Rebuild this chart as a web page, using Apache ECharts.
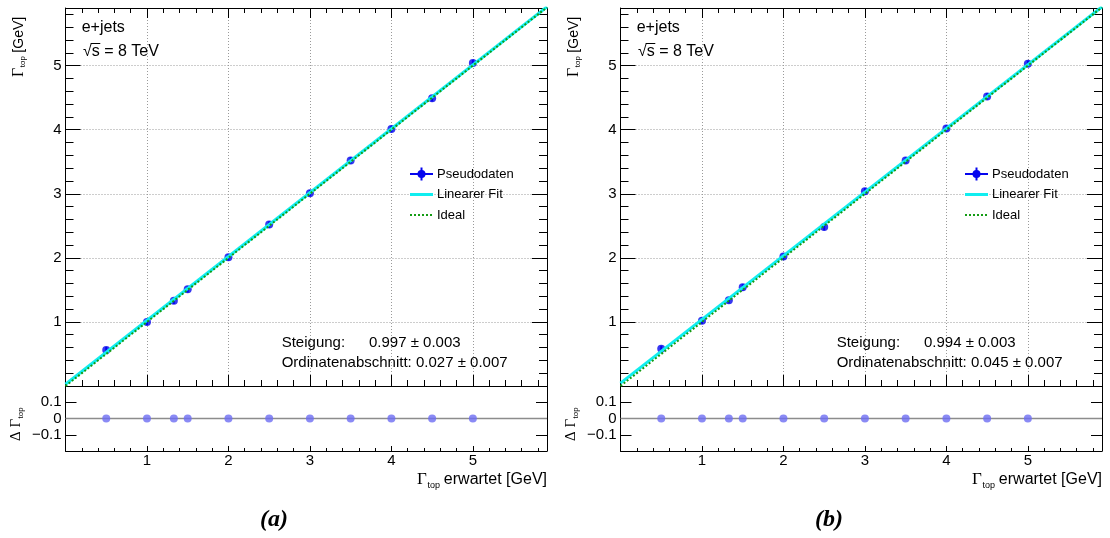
<!DOCTYPE html>
<html>
<head>
<meta charset="utf-8">
<title>Γtop Kalibration, e+jets</title>
<script src="https://cdn.jsdelivr.net/npm/echarts@6/dist/echarts.min.js"></script>
<style>
  html, body { margin: 0; padding: 0; background: #ffffff; }
  #chart { width: 1110px; height: 538px; }
</style>
</head>
<body>
<div id="chart"></div>
<script>
// ---- values -------------------------------------------------------------
// generated (expected) top width in GeV
const expectedWidth = [0.5, 1, 1.33, 1.5, 2, 2.5, 3, 3.5, 4, 4.5, 5];

// (a) pseudo-data: measured width, its uncertainty, residual to the fit
const measuredA = [0.56, 1.00, 1.33, 1.51, 2.01, 2.52, 3.01, 3.52, 4.01, 4.49, 5.04];
const measuredErrA = [0.05, 0.05, 0.05, 0.05, 0.05, 0.05, 0.05, 0.05, 0.05, 0.05, 0.05];
const residualA = [0, 0, 0, 0, 0, 0, 0, 0, 0, 0, 0];
const fitA = [0.997, 0.003, 0.027, 0.007];   // slope, error, intercept, error

// (b) pseudo-data
const measuredB = [0.58, 1.02, 1.34, 1.54, 2.02, 2.48, 3.04, 3.52, 4.02, 4.52, 5.03];
const measuredErrB = [0.05, 0.05, 0.05, 0.05, 0.05, 0.05, 0.05, 0.05, 0.05, 0.05, 0.05];
const residualB = [0, 0, 0, 0, 0, 0, 0, 0, 0, 0, 0];
const fitB = [0.994, 0.003, 0.045, 0.007];

const panelCaptions = ['(a)', '(b)'];
const legendLabels = ['Pseudodaten', 'Linearer Fit', 'Ideal'];
const channelLabel = 'e+jets';
const energyLabel = 's = 8 TeV';

// ---- layout -------------------------------------------------------------
const FONT = "'Liberation Sans', Arial, Helvetica, sans-serif";
const GREEK = "'Liberation Serif', 'Times New Roman', serif";
const PANEL_DX = 555;
const FRAME_L = 65.5, FRAME_W = 481.5;
const MAIN_T = 8, MAIN_H = 378, RATIO_H = 65;
const X_MAX = 5.91, Y_MAX = 5.9, RATIO_LIM = 0.2;

const C_DATA = '#0505ee';
const C_RATIO = '#6d6df2';
const C_FIT = '#10eef0';
const C_IDEAL = '#149c14';

const measureCtx = document.createElement('canvas').getContext('2d');
function textWidth(str, font) { measureCtx.font = font; return measureCtx.measureText(str).width; }

const grid = [], xAxis = [], yAxis = [], series = [], graphic = [];

function addAxis(dim, gridIndex, position, min, max, interval, tickLen, o) {
  o = o || {};
  const label = {
    show: !!o.labels, color: '#000', fontFamily: FONT, fontSize: 15,
    margin: o.margin != null ? o.margin : 4, showMinLabel: false, showMaxLabel: false
  };
  if (o.formatter) label.formatter = o.formatter;
  const a = {
    type: 'value', gridIndex, position, min, max, interval, silent: true,
    axisLine: { show: !!o.line, onZero: false, lineStyle: { color: '#000', width: 1 } },
    axisTick: { show: true, inside: true, length: tickLen, lineStyle: { color: '#000', width: 1 } },
    axisLabel: label,
    splitLine: { show: !!o.split, lineStyle: { color: '#9a9a9a', width: 1, type: [1, 2] } },
    minorTick: { show: false }, minorSplitLine: { show: false },
    axisPointer: { show: false }
  };
  const list = dim === 'x' ? xAxis : yAxis;
  list.push(a);
  return list.length - 1;
}

function txt(x, y, text, font, align, extra) {
  return Object.assign({
    type: 'text', x, y, silent: true, z: 100,
    style: {
      text, font, fill: '#000',
      align: align || 'left', verticalAlign: 'middle',
      textAlign: align || 'left', textVerticalAlign: 'middle'
    }
  }, extra || {});
}
function seg(x1, y1, x2, y2, stroke, width, dash) {
  const st = { stroke, lineWidth: width };
  if (dash) st.lineDash = dash;
  return { type: 'line', silent: true, z: 100, shape: { x1, y1, x2, y2 }, style: st };
}

function minusFmt(v) {
  const r = Math.round(v * 1000) / 1000;
  return r < 0 ? '\u2212' + Math.abs(r) : String(r);
}

function addPanel(k, measured, errs, resid, fit) {
  const dx = k * PANEL_DX;
  const slope = fit[0], slopeErr = fit[1], icpt = fit[2], icptErr = fit[3];

  // grids: main plot and residual strip
  const gMain = grid.length;
  grid.push({ left: FRAME_L + dx, top: MAIN_T, width: FRAME_W, height: MAIN_H });
  const gRatio = grid.length;
  grid.push({ left: FRAME_L + dx, top: MAIN_T + MAIN_H, width: FRAME_W, height: RATIO_H });

  // main frame: major + minor ticks on all four sides
  const xm = addAxis('x', gMain, 'bottom', 0, X_MAX, 1, 11, { line: true, split: true });
  addAxis('x', gMain, 'bottom', 0, X_MAX, 0.2, 6);
  addAxis('x', gMain, 'top', 0, X_MAX, 1, 10, { line: true });
  addAxis('x', gMain, 'top', 0, X_MAX, 0.2, 5);
  const ym = addAxis('y', gMain, 'left', 0, Y_MAX, 1, 15, { line: true, split: true, labels: true, margin: 4 });
  addAxis('y', gMain, 'left', 0, Y_MAX, 0.2, 8);
  addAxis('y', gMain, 'right', 0, Y_MAX, 1, 15, { line: true });
  addAxis('y', gMain, 'right', 0, Y_MAX, 0.2, 8);

  // residual frame
  const xr = addAxis('x', gRatio, 'bottom', 0, X_MAX, 1, 5, { line: true, labels: true, margin: 2 });
  addAxis('x', gRatio, 'bottom', 0, X_MAX, 0.2, 3);
  const yr = addAxis('y', gRatio, 'left', -RATIO_LIM, RATIO_LIM, 0.1, 11,
                     { line: true, labels: true, margin: 4, formatter: minusFmt });
  addAxis('y', gRatio, 'right', -RATIO_LIM, RATIO_LIM, 0.1, 11, { line: true });

  // error bars
  series.push({
    type: 'custom', xAxisIndex: xm, yAxisIndex: ym, z: 3, silent: true,
    data: expectedWidth.map((x, i) => [x, measured[i], errs[i]]),
    renderItem: (params, api) => {
      const a = api.coord([api.value(0), api.value(1) - api.value(2)]);
      const b = api.coord([api.value(0), api.value(1) + api.value(2)]);
      return { type: 'line', shape: { x1: a[0], y1: a[1], x2: b[0], y2: b[1] },
               style: { stroke: C_DATA, lineWidth: 2 } };
    }
  });
  // pseudo-data points
  series.push({
    type: 'scatter', name: legendLabels[0], xAxisIndex: xm, yAxisIndex: ym, z: 3, silent: true,
    symbol: 'circle', symbolSize: 8, itemStyle: { color: C_DATA },
    data: expectedWidth.map((x, i) => [x, measured[i]])
  });
  // linear fit
  series.push({
    type: 'line', name: legendLabels[1], xAxisIndex: xm, yAxisIndex: ym, z: 4, silent: true,
    symbol: 'none', clip: true, lineStyle: { color: C_FIT, width: 3 },
    data: [0, X_MAX].map(x => [x, icpt + slope * x])
  });
  // ideal calibration y = x
  series.push({
    type: 'line', name: legendLabels[2], xAxisIndex: xm, yAxisIndex: ym, z: 5, silent: true,
    symbol: 'none', clip: true, lineStyle: { color: C_IDEAL, width: 2, type: [2, 2] },
    data: [0, X_MAX].map(x => [x, x])
  });
  // residual strip: zero line and residuals
  series.push({
    type: 'line', xAxisIndex: xr, yAxisIndex: yr, z: 2, silent: true, symbol: 'none',
    lineStyle: { color: '#8c8c8c', width: 1.5 },
    data: [[0, 0], [X_MAX, 0]]
  });
  series.push({
    type: 'scatter', xAxisIndex: xr, yAxisIndex: yr, z: 3, silent: true,
    symbol: 'circle', symbolSize: 8, itemStyle: { color: C_RATIO },
    data: expectedWidth.map((x, i) => [x, resid[i]])
  });

  // ---- annotations ----
  const f16 = `16px ${FONT}`, f15 = `15px ${FONT}`, f13 = `13px ${FONT}`;
  graphic.push(txt(81.7 + dx, 28, channelLabel, f16));
  const wSqrt = textWidth('\u221A', f16);
  graphic.push(txt(83 + dx, 52, '\u221A', f16));
  graphic.push(txt(83 + dx + wSqrt, 52, energyLabel, f16));
  graphic.push(seg(83 + dx + wSqrt - 1, 43.5, 83 + dx + wSqrt + textWidth('s', f16) + 0.5, 43.5, '#000', 1));

  graphic.push(txt(281.7 + dx, 342.5, 'Steigung:', f15));
  graphic.push(txt(369 + dx, 342.5, `${slope.toFixed(3)} \u00B1 ${slopeErr.toFixed(3)}`, f15));
  graphic.push(txt(281.7 + dx, 363, `Ordinatenabschnitt: ${icpt.toFixed(3)} \u00B1 ${icptErr.toFixed(3)}`, f15));

  // legend
  const lx0 = 410 + dx, lx1 = 433 + dx, lxm = (lx0 + lx1) / 2, ltx = 437 + dx;
  graphic.push(seg(lx0, 174, lx1, 174, C_DATA, 2));
  graphic.push(seg(lxm, 167.5, lxm, 180.5, C_DATA, 2));
  graphic.push({ type: 'circle', silent: true, z: 100, shape: { cx: lxm, cy: 174, r: 4 }, style: { fill: C_DATA } });
  graphic.push(txt(ltx, 174, legendLabels[0], f13));
  graphic.push(seg(lx0, 194.5, lx1, 194.5, C_FIT, 3));
  graphic.push(txt(ltx, 194.5, legendLabels[1], f13));
  graphic.push(seg(lx0, 215, lx1, 215, C_IDEAL, 2, [2, 2]));
  graphic.push(txt(ltx, 215, legendLabels[2], f13));

  // y title of main plot (rotated)
  const gG16 = `16px ${GREEK}`, sub8 = `8px ${FONT}`, f14 = `14px ${FONT}`;
  const wG = textWidth('\u0393', gG16), wTop8 = textWidth('top', sub8);
  graphic.push({
    type: 'group', x: 19 + dx, y: 77, rotation: Math.PI / 2, silent: true, z: 100,
    children: [
      txt(0, 0, '\u0393', gG16),
      txt(wG + 0.5, 4, 'top', sub8),
      txt(wG + wTop8 + 4, 0, '[GeV]', f14)
    ]
  });

  // y title of residual strip (rotated)
  const gG15 = `15px ${GREEK}`;
  const wD = textWidth('\u0394 ', gG15), wG15 = textWidth('\u0393', gG15);
  graphic.push({
    type: 'group', x: 16.5 + dx, y: 441, rotation: Math.PI / 2, silent: true, z: 100,
    children: [
      txt(0, 0, '\u0394 ', gG15),
      txt(wD, 0, '\u0393', gG15),
      txt(wD + wG15 + 0.5, 4, 'top', sub8)
    ]
  });

  // x title, right aligned to the frame
  const gG17 = `17px ${GREEK}`, sub9 = `9px ${FONT}`;
  const wXG = textWidth('\u0393', gG17), wXt = textWidth('top', sub9);
  const wXr = textWidth(' erwartet [GeV]', f16);
  const xs = FRAME_L + FRAME_W + dx - (wXG + wXt + wXr);
  graphic.push(txt(xs, 480, '\u0393', gG17));
  graphic.push(txt(xs + wXG + 0.5, 486, 'top', sub9));
  graphic.push(txt(xs + wXG + wXt, 480, ' erwartet [GeV]', f16));

  // caption
  graphic.push(txt(274 + dx, 520, panelCaptions[k], `italic bold 24px 'Liberation Serif', serif`, 'center'));
}

addPanel(0, measuredA, measuredErrA, residualA, fitA);
addPanel(1, measuredB, measuredErrB, residualB, fitB);

const chart = echarts.init(document.getElementById('chart'), null, { renderer: 'canvas' });
chart.setOption({
  animation: false,
  backgroundColor: '#ffffff',
  grid: grid.map(g => Object.assign({ containLabel: false, outerBoundsMode: 'none' }, g)),
  xAxis, yAxis, series, graphic
});
</script>
</body>
</html>
